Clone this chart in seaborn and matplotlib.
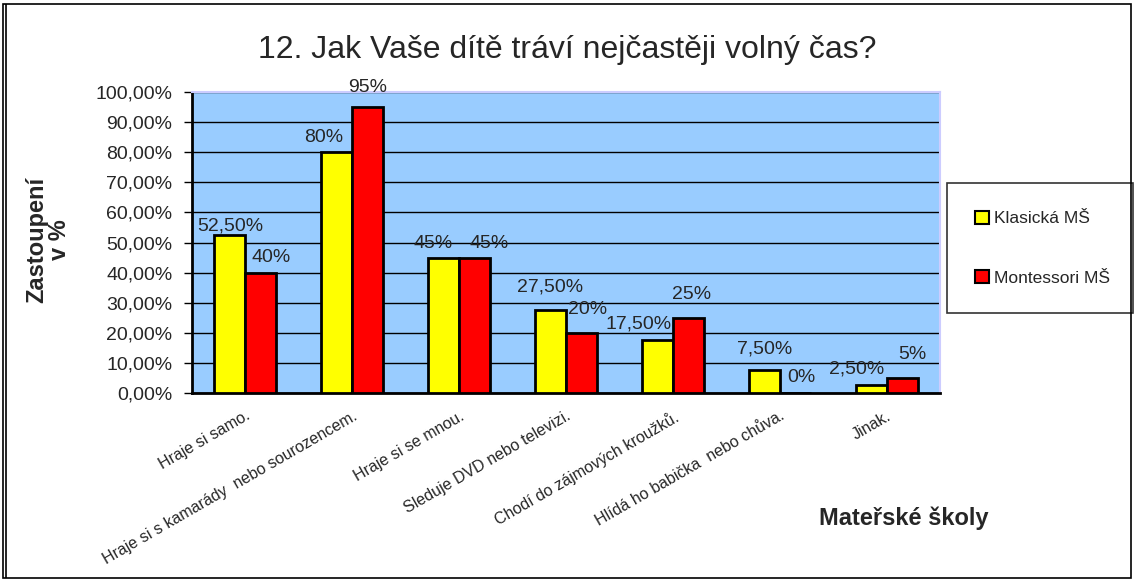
import matplotlib
matplotlib.use("Agg")
import matplotlib.pyplot as plt
import seaborn as sns
import pandas as pd
from matplotlib.patches import Rectangle
from matplotlib.ticker import FuncFormatter

categories = ["Hraje si samo.", "Hraje si s kamarády  nebo sourozencem.", "Hraje si se mnou.",
              "Sleduje DVD nebo televizi.", "Chodí do zájmových kroužků.",
              "Hlídá ho babička  nebo chůva.", "Jinak."]
klasicka = [52.5, 80, 45, 27.5, 17.5, 7.5, 2.5]
montessori = [40, 95, 45, 20, 25, 0, 5]
series_names = ["Klasická MŠ", "Montessori MŠ"]
labels_k = ["52,50%", "80%", "45%", "27,50%", "17,50%", "7,50%", "2,50%"]
labels_m = ["40%", "95%", "45%", "20%", "25%", "0%", "5%"]

# label nudges (pixels) — styling only
nudge_k = [(0, 9), (-13, 15), (-11, 14), (0, 23), (-19, 16), (0, 21), (-14, 16)]
nudge_m = [(10, 15), (0, 20), (14, 14), (6, 23), (3, 23), (6, 16), (10, 23)]

df = pd.DataFrame({
    "cat": categories * 2,
    "val": klasicka + montessori,
    "series": [series_names[0]] * 7 + [series_names[1]] * 7,
})

sns.set_style("white")
plt.rcParams['font.family'] = ['Liberation Sans', 'DejaVu Sans']

fig = plt.figure(figsize=(11.35, 5.81), dpi=100)
ax = fig.add_axes([192/1135, 1-393/581, (940-192)/1135, (393-92)/581])

sns.barplot(data=df, x="cat", y="val", hue="series", order=categories,
            palette=["#FFFF00", "#FF0000"], width=0.58, edgecolor="black",
            linewidth=2, saturation=1, ax=ax, legend=True, zorder=3)

ax.set_facecolor("#99CCFF")
ax.set_ylim(0, 100)
ax.set_xlim(-0.5, 6.5)
ax.set_yticks(range(0, 101, 10))
ax.yaxis.set_major_formatter(FuncFormatter(lambda v, p: f"{v:.2f}".replace(".", ",") + "%"))
ax.grid(axis="y", color="black", linewidth=1, zorder=0)
ax.set_axisbelow(True)
for s in ["top", "right"]:
    ax.spines[s].set_color("#CCCCFF")
    ax.spines[s].set_linewidth(1.5)
for s in ["left", "bottom"]:
    ax.spines[s].set_color("black")
    ax.spines[s].set_linewidth(2)
ax.tick_params(axis="y", direction="out", length=6, width=1, color="black", labelsize=14, pad=8, left=True)
ax.tick_params(axis="x", length=0, labelsize=11.5, pad=11)
ax.set_xticks(range(7))
ax.set_xticklabels(categories, rotation=30, ha="right", rotation_mode="anchor")
ax.set_xlabel("")
ax.set_ylabel("")

# data labels
half = 0.145
for i in range(7):
    ax.annotate(labels_k[i], (i - half, klasicka[i]), xytext=(nudge_k[i][0]*0.72, nudge_k[i][1]*0.72),
                textcoords="offset points", ha="center", va="center", fontsize=14, zorder=5)
    ax.annotate(labels_m[i], (i + half, montessori[i]), xytext=(nudge_m[i][0]*0.72, nudge_m[i][1]*0.72),
                textcoords="offset points", ha="center", va="center", fontsize=14, zorder=5)

leg = ax.legend(loc="upper left",
                bbox_to_anchor=((947-192)/748, (393-312)/301, (1133-947)/748, (312-183)/301),
                mode="expand", frameon=True,
                fontsize=12.5, labelspacing=2.5, handlelength=0.8, handleheight=0.8,
                handletextpad=0.3, borderpad=1.6, fancybox=False, borderaxespad=0)
leg.get_frame().set_edgecolor("black")
leg.get_frame().set_linewidth(1.2)
for h in leg.legend_handles:
    h.set_edgecolor("black")
    h.set_linewidth(1.5)

fig.text(567/1135, 1-50/581, "12. Jak Vaše dítě tráví nejčastěji volný čas?", ha="center", va="center", fontsize=23)
fig.text(48/1135, 1-240/581, "Zastoupení\nv %", rotation=90, ha="center", va="center",
         fontsize=17, fontweight="bold", linespacing=1.0)
fig.text(904/1135, 1-518/581, "Mateřské školy", ha="center", va="center", fontsize=17, fontweight="bold")

# outer frame
fig.patches.append(Rectangle((3/1135, 3/581), 1128/1135, 574/581, transform=fig.transFigure,
                             fill=False, edgecolor="black", linewidth=1.2))
fig.patches.append(Rectangle((6/1135, 3/581), 0, 574/581, transform=fig.transFigure,
                             fill=False, edgecolor="black", linewidth=1.2))

fig.savefig("out.png", dpi=100)
